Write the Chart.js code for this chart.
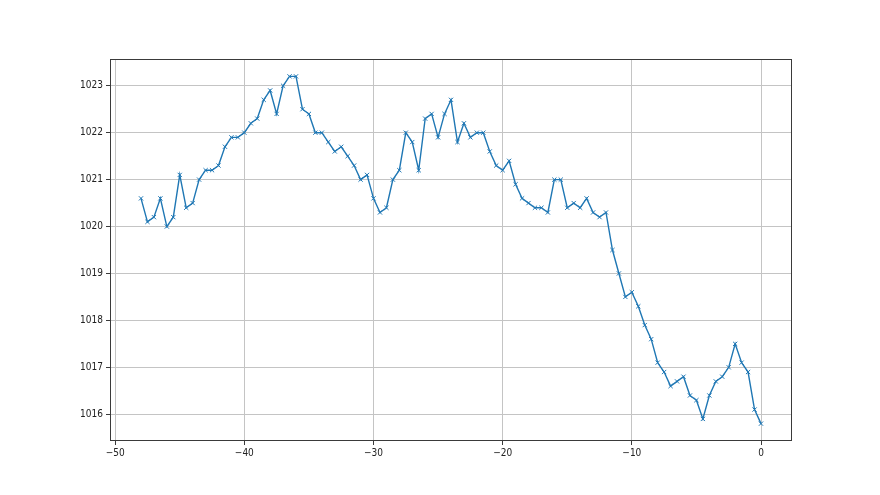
<!DOCTYPE html>
<html>
<head>
<meta charset="utf-8">
<script src="https://cdn.jsdelivr.net/npm/chart.js@4/dist/chart.umd.min.js"></script>
<style>
  html, body { margin: 0; padding: 0; background: #fff; }
  canvas { display: block; }
</style>
</head>
<body>
<canvas id="chart" width="880" height="495"></canvas>
<script>
// hours relative to now
const hours = [
  -48, -47.5, -47, -46.5, -46, -45.5, -45, -44.5, -44, -43.5, -43, -42.5,
  -42, -41.5, -41, -40.5, -40, -39.5, -39, -38.5, -38, -37.5, -37, -36.5,
  -36, -35.5, -35, -34.5, -34, -33.5, -33, -32.5, -32, -31.5, -31, -30.5,
  -30, -29.5, -29, -28.5, -28, -27.5, -27, -26.5, -26, -25.5, -25, -24.5,
  -24, -23.5, -23, -22.5, -22, -21.5, -21, -20.5, -20, -19.5, -19, -18.5,
  -18, -17.5, -17, -16.5, -16, -15.5, -15, -14.5, -14, -13.5, -13, -12.5,
  -12, -11.5, -11, -10.5, -10, -9.5, -9, -8.5, -8, -7.5, -7, -6.5,
  -6, -5.5, -5, -4.5, -4, -3.5, -3, -2.5, -2, -1.5, -1, -0.5, 0
];

// pressure readings
const pressure = [
  1020.6, 1020.1, 1020.2, 1020.6, 1020.0, 1020.2, 1021.1, 1020.4, 1020.5, 1021.0, 1021.2, 1021.2,
  1021.3, 1021.7, 1021.9, 1021.9, 1022.0, 1022.2, 1022.3, 1022.7, 1022.9, 1022.4, 1023.0, 1023.2,
  1023.2, 1022.5, 1022.4, 1022.0, 1022.0, 1021.8, 1021.6, 1021.7, 1021.5, 1021.3, 1021.0, 1021.1,
  1020.6, 1020.3, 1020.4, 1021.0, 1021.2, 1022.0, 1021.8, 1021.2, 1022.3, 1022.4, 1021.9, 1022.4,
  1022.7, 1021.8, 1022.2, 1021.9, 1022.0, 1022.0, 1021.6, 1021.3, 1021.2, 1021.4, 1020.9, 1020.6,
  1020.5, 1020.4, 1020.4, 1020.3, 1021.0, 1021.0, 1020.4, 1020.5, 1020.4, 1020.6, 1020.3, 1020.2,
  1020.3, 1019.5, 1019.0, 1018.5, 1018.6, 1018.3, 1017.9, 1017.6, 1017.1, 1016.9, 1016.6, 1016.7,
  1016.8, 1016.4, 1016.3, 1015.9, 1016.4, 1016.7, 1016.8, 1017.0, 1017.5, 1017.1, 1016.9, 1016.1, 1015.8
];

const xTicks = [-50, -40, -30, -20, -10, 0];
const yTicks = [1016, 1017, 1018, 1019, 1020, 1021, 1022, 1023];

const tickFont = {
  family: "'Liberation Sans Narrow', 'DejaVu Sans Condensed', 'DejaVu Sans', sans-serif",
  size: 10
};

// plain numbers with a real minus sign, like matplotlib
const fmt = (v) => String(v).replace('-', '\u2212');

// box around the plot area
const framePlugin = {
  id: 'frame',
  afterDatasetsDraw(chart) {
    const { ctx, chartArea: a } = chart;
    ctx.save();
    ctx.strokeStyle = '#3a3a3a';
    ctx.lineWidth = 1;
    ctx.strokeRect(a.left + 0.5, a.top + 0.5, a.right - a.left - 1, a.bottom - a.top - 1);
    ctx.restore();
  }
};

new Chart(document.getElementById('chart').getContext('2d'), {
  type: 'line',
  data: {
    datasets: [{
      data: hours.map((h, i) => ({ x: h, y: pressure[i] })),
      borderColor: '#1f77b4',
      borderWidth: 1.4,
      pointStyle: 'crossRot',
      pointRadius: 3,
      pointBorderColor: '#1f77b4',
      pointBorderWidth: 1,
      tension: 0,
      fill: false
    }]
  },
  options: {
    responsive: false,
    animation: false,
    layout: { padding: { top: 59, right: 88, left: 0, bottom: 0 } },
    plugins: {
      legend: { display: false },
      tooltip: { enabled: false }
    },
    scales: {
      x: {
        type: 'linear',
        min: -50.4,
        max: 2.4,
        afterBuildTicks: (scale) => { scale.ticks = xTicks.map(v => ({ value: v })); },
        afterFit: (scale) => { scale.height = 54; },
        grid: { color: '#c4c4c4', lineWidth: 1, tickColor: '#3a3a3a', tickLength: 4 },
        border: { display: false },
        ticks: { color: '#222', font: tickFont, padding: 2, maxRotation: 0, callback: fmt }
      },
      y: {
        type: 'linear',
        min: 1015.43,
        max: 1023.57,
        afterBuildTicks: (scale) => { scale.ticks = yTicks.map(v => ({ value: v })); },
        afterFit: (scale) => { scale.width = 110; },
        grid: { color: '#c4c4c4', lineWidth: 1, tickColor: '#3a3a3a', tickLength: 4 },
        border: { display: false },
        ticks: { color: '#222', font: tickFont, padding: 3, callback: fmt }
      }
    }
  },
  plugins: [framePlugin]
});
</script>
</body>
</html>
